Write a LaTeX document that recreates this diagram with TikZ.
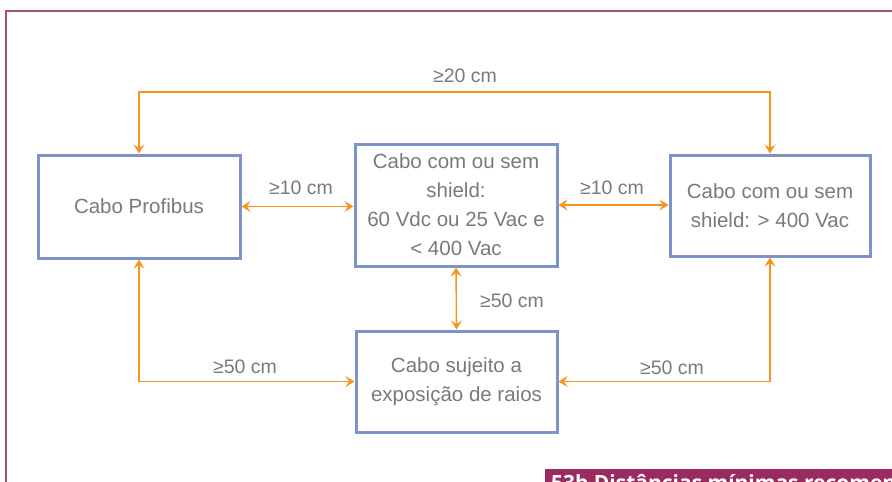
\documentclass[tikz,border=0pt]{standalone}
\usepackage{fontspec}
\setmainfont{Liberation Sans}
\newfontfamily\capfont{Open Sans}
\usetikzlibrary{arrows.meta}
\definecolor{frameC}{HTML}{A8507C}
\definecolor{capC}{HTML}{9A2B5E}
\definecolor{boxC}{HTML}{7F93CB}
\definecolor{arrC}{HTML}{F7941D}
\definecolor{txtC}{HTML}{7A7A7A}
\tikzset{
  cable/.style={draw=boxC, line width=3pt, fill=white, inner sep=0pt, align=center,
    text=txtC, font=\fontsize{20.5}{29}\selectfont},
  dist/.style={draw=arrC, line width=1.4pt, {Stealth[length=9pt,width=11pt,inset=3.5pt]}-{Stealth[length=9pt,width=11pt,inset=3.5pt]}},
  lbl/.style={text=txtC, font=\fontsize{19.5}{22}\selectfont, inner sep=0pt}
}
\begin{document}
\begin{tikzpicture}[x=1pt,y=-1pt]
\useasboundingbox (0,0) rectangle (892,482);
\clip (0,0) rectangle (892,482);
\fill[white] (0,0) rectangle (892,482);
% frame
\draw[frameC, line width=2pt] (6,490) -- (6,11) -- (900,11);
% caption bar
\fill[capC] (545,469) rectangle (900,495);
\node[anchor=base west, text=white, inner sep=0pt, font=\capfont\bfseries\fontsize{21}{24}\selectfont] (cap) at (551,490) {53b Distâncias mínimas recomendadas};
% boxes
\node[cable, minimum width=202pt, minimum height=103pt] (A) at (139,206.5) {Cabo Profibus};
\node[cable, minimum width=202pt, minimum height=122pt] (B) at (456,205) {Cabo com ou sem\\shield:\\60 Vdc ou 25 Vac e\\< 400 Vac};
\node[cable, minimum width=200pt, minimum height=101pt] (C) at (770,205.5) {Cabo com ou sem\\shield: > 400 Vac};
\node[cable, minimum width=201pt, minimum height=101pt] (D) at (456.5,381.5) {Cabo sujeito a\\exposição de raios};
% connectors
\coordinate (top) at (456,92);
\draw[dist] (A.north) |- (top) -| (C.north);
\draw[dist] (A.east) -- (A.east -| B.west);
\draw[dist] (B.east) -- (B.east -| C.west);
\draw[dist] (B.south) -- (D.north);
\draw[dist] (A.south) |- (D.west);
\draw[dist] (C.south) |- (D.east);
% labels
\node[lbl] (l1) at (465,76) {≥20 cm};
\node[lbl] (l2) at (301,188) {≥10 cm};
\node[lbl] (l3) at (612,188) {≥10 cm};
\node[lbl] (l4) at (512,301) {≥50 cm};
\node[lbl] (l5) at (245,367) {≥50 cm};
\node[lbl] (l6) at (672,368) {≥50 cm};
\end{tikzpicture}
\end{document}
